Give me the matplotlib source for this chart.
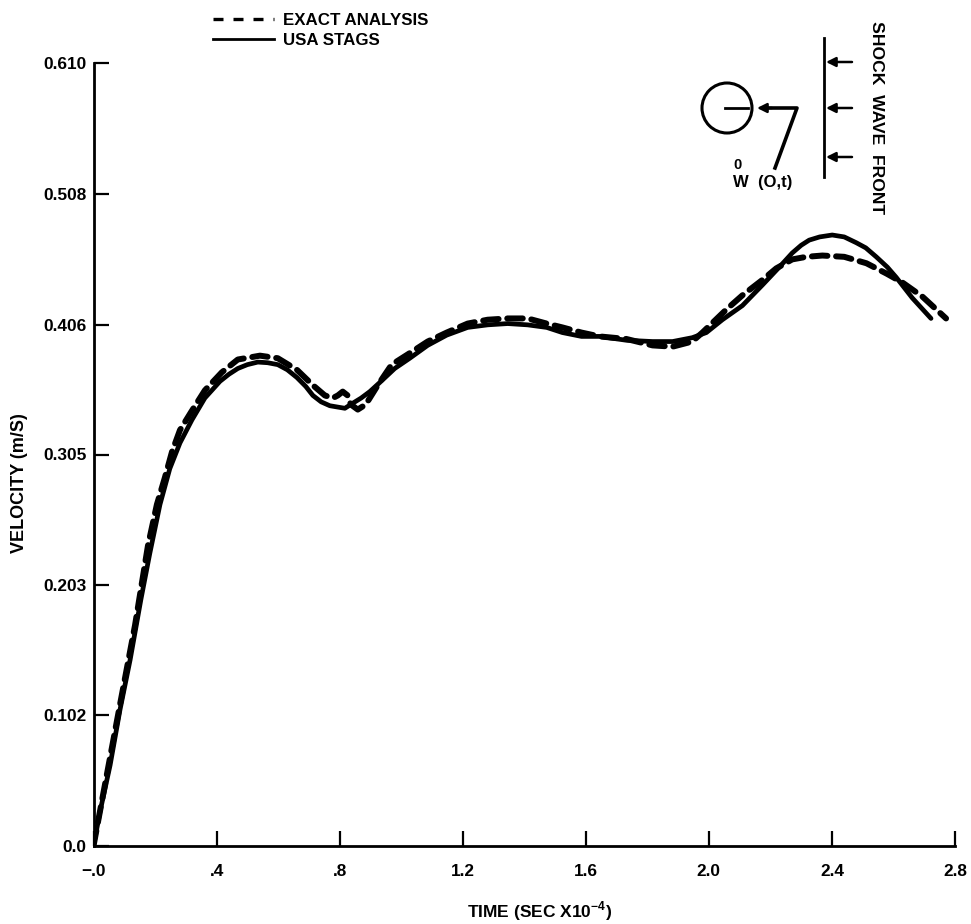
"""
Velocity of the shock-loaded cylinder: exact analysis against USA STAGS
"""

import matplotlib
matplotlib.use("Agg")
import matplotlib.pyplot as plt
from matplotlib.lines import Line2D
from matplotlib.patches import Circle

plt.rcParams["font.family"] = ["Liberation Sans", "DejaVu Sans"]
plt.rcParams["font.weight"] = "bold"
plt.rcParams["mathtext.fontset"] = "custom"
plt.rcParams["mathtext.bf"] = "Liberation Sans:bold"
plt.rcParams["mathtext.rm"] = "Liberation Sans:bold"

# 读图得到的数据
stags_t = [0, .021, .054, .086, .119, .154, .183, .216, .248, .281, .320, .362, .411, .44, .469,
           .50, .534, .566, .599, .63, .661, .69, .713, .74, .768, .817, .843, .87, .898, .930,
           .979, 1.028, 1.086, 1.148,
           1.216, 1.281, 1.346, 1.411, 1.473, 1.524, 1.586, 1.644, 1.732, 1.817, 1.882,
           1.946, 1.992, 2.044, 2.109, 2.174, 2.229, 2.271, 2.30, 2.326, 2.36, 2.401, 2.44,
           2.479, 2.51, 2.544, 2.58, 2.609, 2.661, 2.722]
stags_v = [0, .0265, .063, .106, .145, .192, .228, .266, .294, .314, .332, .349, .362, .3675, .372,
           .375, .377, .3765, .375, .371, .365, .358, .351, .346, .343, .341, .345, .349, .354, .361,
           .372, .380, .390, .398,
           .404, .406, .407, .406, .404, .400, .397, .397, .394, .393, .393,
           .396, .400, .410, .421, .437, .451, .462, .468, .472, .4745, .476, .4745,
           .470, .466, .459, .451, .443, .427, .411]

exact_t = [0, .037, .086, .135, .177, .206, .232, .255, .281, .317, .362, .417, .469, .541,
           .599, .661, .713, .752, .778, .794, .810, .826, .836, .859, .885, .924, .969,
           1.028, 1.086, 1.148, 1.216, 1.281, 1.346, 1.411, 1.473, 1.524, 1.586, 1.644,
           1.732, 1.817, 1.882, 1.946, 1.979, 2.057, 2.109, 2.174, 2.219, 2.271, 2.317,
           2.369, 2.440, 2.512, 2.577, 2.629, 2.694, 2.771]
exact_v = [0, .0475, .110, .172, .234, .266, .287, .307, .324, .338, .355, .369, .379, .382,
           .380, .371, .359, .351, .349, .351, .354, .351, .344, .340, .344, .359, .375,
           .384, .393, .400, .407, .410, .411, .411, .407, .404, .400, .397,
           .395, .390, .389, .393, .400, .418, .429, .441, .450, .457, .459,
           .460, .459, .454, .446, .439, .428, .411]

x_ticks = [0, .4, .8, 1.2, 1.6, 2.0, 2.4, 2.8]
x_tick_labels = ["\u2212.0", ".4", ".8", "1.2", "1.6", "2.0", "2.4", "2.8"]
y_ticks = [0, .102, .203, .305, .406, .508, .610]
y_tick_labels = ["0.0", "0.102", "0.203", "0.305", "0.406", "0.508", "0.610"]

W, H = 971, 924
fig = plt.figure(figsize=(W / 100, H / 100), dpi=100)
ax = fig.add_axes([93.5 / W, 78 / H, 861.5 / W, 783 / H])

ax.plot(stags_t, stags_v, color="black", lw=3.4, solid_capstyle="round",
        solid_joinstyle="round", label="USA STAGS")
ax.plot(exact_t, exact_v, color="black", lw=4.3, dashes=(2.6, 1.45),
        dash_capstyle="round", dash_joinstyle="round", label="EXACT ANALYSIS")

ax.set_xlim(0, 2.8)
ax.set_ylim(0, 0.61)
ax.set_xticks(x_ticks, x_tick_labels)
ax.set_yticks(y_ticks, y_tick_labels)
ax.tick_params(axis="both", direction="in", length=10.5, width=1.6, labelsize=12.4)
ax.tick_params(axis="x", pad=13)
ax.tick_params(axis="y", pad=5)
ax.spines["top"].set_visible(False)
ax.spines["right"].set_visible(False)
ax.spines["left"].set_linewidth(2)
ax.spines["bottom"].set_linewidth(2)

ax.set_xlabel(r"TIME (SEC X10$^{\mathbf{-4}}$)", fontsize=12.5, fontweight="bold")
ax.xaxis.set_label_coords((540 - 93.5) / 861.5, -0.068)
ax.set_ylabel("VELOCITY (m/S)", fontsize=13, fontweight="bold")
ax.yaxis.set_label_coords(-0.076, 0.464)

# 图例
handles = [
    Line2D([], [], color="black", lw=2.4, dashes=(3.0, 3.0)),
    Line2D([], [], color="black", lw=2.0),
]
fig.legend(handles, ["EXACT ANALYSIS", "USA STAGS"], loc="upper left",
           bbox_to_anchor=(213 / W, 1 - 13 / H), frameon=False, fontsize=12.2,
           borderpad=0, borderaxespad=0, handlelength=3.6, handletextpad=0.55,
           labelspacing=0.3)

# 右上角的示意图，用像素坐标
sk = fig.add_axes([0, 0, 1, 1])
sk.set_xlim(0, W)
sk.set_ylim(H, 0)
sk.axis("off")
sk.patch.set_alpha(0)

sk.add_patch(Circle((727, 108), 25, fill=False, ec="black", lw=2.2))
sk.plot([725, 748], [108, 108], color="black", lw=2.0)
sk.plot([775, 797, 765], [168, 108, 108], color="black", lw=2.6)
sk.annotate("", xy=(757, 108), xytext=(772, 108),
            arrowprops=dict(arrowstyle="-|>", color="black", lw=1.8, mutation_scale=14,
                            shrinkA=0, shrinkB=0))
sk.plot([824, 824], [38, 177], color="black", lw=2.0)
for y in [62, 108, 157]:
    sk.annotate("", xy=(826, y), xytext=(852, y),
                arrowprops=dict(arrowstyle="-|>", color="black", lw=1.8, mutation_scale=14,
                                shrinkA=0, shrinkB=0))
sk.text(876, 118, "SHOCK  WAVE  FRONT", rotation=-90, ha="center", va="center", fontsize=12.6)
sk.text(738, 165, "0", ha="center", va="center", fontsize=10.5)
sk.text(733, 183, "W  (O,t)", ha="left", va="center", fontsize=12)

fig.savefig("out.png", dpi=100)
